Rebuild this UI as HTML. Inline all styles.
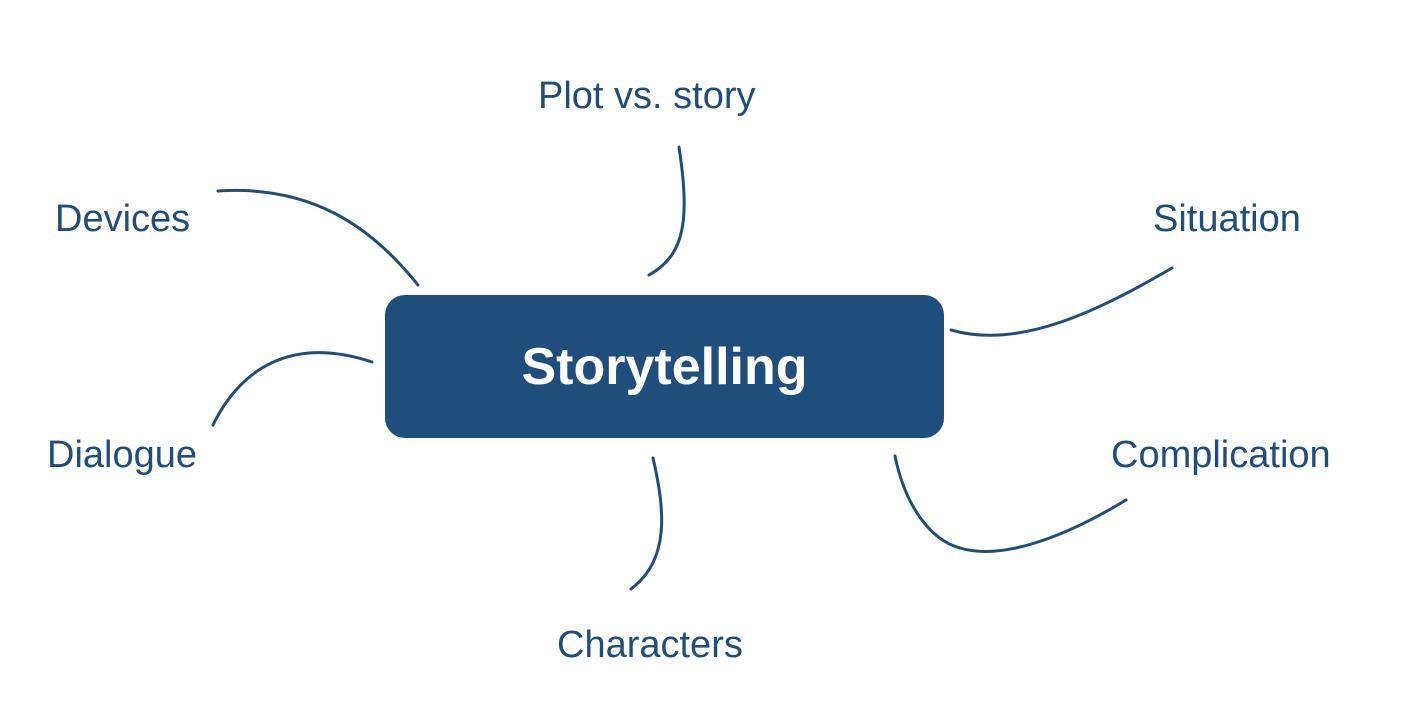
<!DOCTYPE html>
<html><head><meta charset="utf-8"><style>
html,body{margin:0;padding:0;background:#fff;}
body{width:1406px;height:722px;position:relative;overflow:hidden;font-family:"Liberation Sans",Arial,sans-serif;}
.l{position:absolute;color:#1f4e7d;font-size:38px;line-height:1;white-space:nowrap;}
#c{position:absolute;left:385px;top:295px;width:559px;height:143px;background:#1f4e7d;border-radius:20px;color:#fff;font-weight:bold;font-size:52px;display:flex;align-items:center;justify-content:center;}
</style></head><body>
<svg width="1406" height="722" style="position:absolute;left:0;top:0" fill="none" stroke="#1f4e7d" stroke-width="3" stroke-linecap="round">
<path d="M679,147 C690,220 685,255 649,275"/>
<path d="M218,191 C310,185 370,225 418,285"/>
<path d="M1172,268 C1100,310 1020,350 951,330"/>
<path d="M213,425 C240,370 290,335 372,362"/>
<path d="M1126,500 C1060,540 1000,560 960,548 C930,540 905,505 895,456"/>
<path d="M653,458 C665,510 670,560 631,589"/>
</svg>
<div id="c">Storytelling</div>
<div class="l" style="left:538px;top:77px">Plot vs. story</div>
<div class="l" style="left:55px;top:200px">Devices</div>
<div class="l" style="left:1153px;top:200px">Situation</div>
<div class="l" style="left:47px;top:436px">Dialogue</div>
<div class="l" style="left:1111px;top:436px">Complication</div>
<div class="l" style="left:557px;top:626px">Characters</div>
</body></html>
